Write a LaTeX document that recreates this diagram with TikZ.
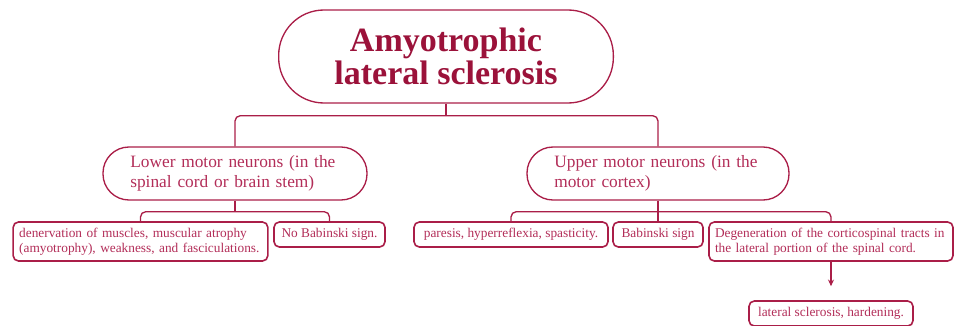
\documentclass[tikz,border=0pt]{standalone}
\usepackage{fontspec}
\setmainfont{Liberation Serif}
\usepackage{xcolor}
\usepackage{tikz}
\usetikzlibrary{positioning, arrows.meta, calc}

\definecolor{alsred}{RGB}{170,30,72}
\definecolor{alstitle}{RGB}{155,18,58}
\definecolor{alstext}{RGB}{178,45,88}

\begin{document}
\begin{tikzpicture}[
        x=0.75pt, y=-0.75pt, % one unit = one pixel of the layout
        % --- Box styles ---
        titlebox/.style={
            draw=alsred, line width=1pt,
            rounded corners=34pt,
            minimum width=251pt, minimum height=69.75pt,
            align=center, text=alstitle,
            font=\fontsize{25.5}{25}\selectfont\bfseries
        },
        groupbox/.style={
            draw=alsred, line width=1pt,
            rounded corners=19.5pt,
            minimum height=39.75pt, inner xsep=20.5pt,
            align=left, text=alstext,
            font=\fontsize{13}{15}\selectfont
        },
        leafbox/.style={
            draw=alsred, line width=1.2pt,
            rounded corners=4pt,
            minimum height=18.75pt, inner xsep=4.5pt, inner ysep=2pt,
            text=alstext,
            font=\fontsize{10}{11}\selectfont
        },
        link/.style={draw=alsred, line width=1pt, rounded corners=4pt}
    ]

    \useasboundingbox (0,0) rectangle (955,325);

    % ==================== 1. BOXES ====================
    % Top
    \node[titlebox] (als) at (446,56.5) {Amyotrophic\\lateral sclerosis};

    % Second level
    \node[groupbox, text width=157pt]   (lower) at (235,173.5) {Lower motor neurons (in the\\spinal cord or brain stem)};
    \node[groupbox, text width=155.5pt] (upper) at (658,173.5) {Upper motor neurons (in the\\motor cortex)};

    % Under lower motor neurons
    \node[leafbox, text width=182pt, align=left, minimum height=29.25pt] (denerv) at (140.5,241.5)
        {denervation of muscles, muscular atrophy\\(amyotrophy), weakness, and fasciculations.};
    \node[leafbox, minimum width=83.25pt] (nobabinski) at (329.5,234.5) {No Babinski sign.};

    % Under upper motor neurons
    \node[leafbox, minimum width=145.5pt] (paresis)  at (511,234.5) {paresis, hyperreflexia, spasticity.};
    \node[leafbox, minimum width=67.5pt]  (babinski) at (658,234.5) {Babinski sign};
    \node[leafbox, text width=174pt, align=left, minimum height=29.25pt] (degen) at (831,241.5)
        {Degeneration of the corticospinal tracts in\\the lateral portion of the spinal cord.};
    \node[leafbox, minimum width=123pt] (lateral) at (831,313.5) {lateral sclerosis, hardening.};

    % ==================== 2. CONNECTORS ====================
    \coordinate (alsbar)   at ($(als.south)+(0,-9pt)$);
    \coordinate (lowerbar) at ($(lower.south)+(0,-8.25pt)$);
    \coordinate (upperbar) at ($(upper.south)+(0,-8.25pt)$);

    \draw[link] (als.south) -- (alsbar);
    \draw[link] (lower.north) |- (alsbar) -| (upper.north);

    \draw[link] (lower.south) -- (lowerbar);
    \draw[link] (denerv.north) |- (lowerbar) -| (nobabinski.north);

    \draw[link] (upper.south) -- (babinski.north);
    \draw[link] (paresis.north) |- (upperbar) -| (degen.north);

    \draw[link, -{Stealth[length=5pt, width=4.5pt]}, shorten >=10.5pt] (degen.south) -- (lateral.north);

\end{tikzpicture}
\end{document}
